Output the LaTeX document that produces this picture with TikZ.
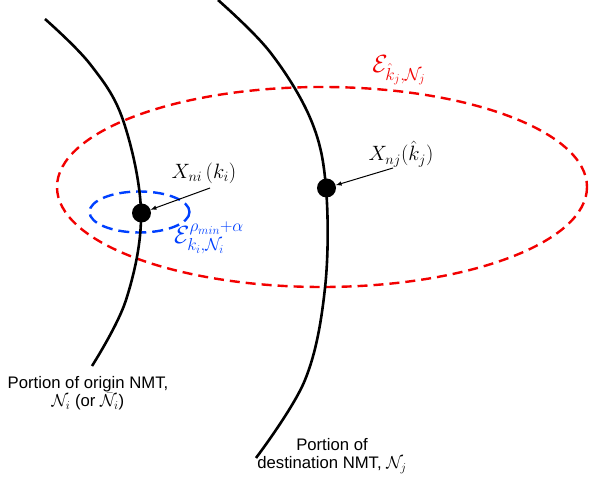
\documentclass[tikz,border=0pt]{standalone}
\usepackage{amsmath}
\usepackage{fontspec}
\setmainfont{Liberation Sans}
\begin{document}
\begin{tikzpicture}[x=1pt,y=-1pt,
  curve/.style={line width=2.6pt},
  dot/.style={circle,fill=black,inner sep=0pt,minimum size=19pt},
  lbl/.style={font=\fontsize{16.7}{19.5}\selectfont,inner sep=1pt,align=center},
  mlbl/.style={font=\fontsize{20}{23}\selectfont,inner sep=1pt},
  elbl/.style={font=\fontsize{24}{28}\selectfont,inner sep=1pt},
  ptr/.style={-latex,line width=1pt},
  redell/.style={red!95!black,line width=2.4pt,dash pattern=on 10pt off 6pt},
  blueell/.style={blue!75!cyan,line width=2.4pt,dash pattern=on 11pt off 6pt}]
\useasboundingbox (0,0) rectangle (590,486);
% ellipses
\draw[redell] (322,187) ellipse [x radius=265, y radius=100];
\draw[blueell] (139.5,212) ellipse [x radius=50, y radius=20.5];
% curves
\draw[curve] plot[smooth,tension=0.6] coordinates {(45,19) (90,64) (123,120) (141,213) (126,300) (92,366)};
\draw[curve] plot[smooth,tension=0.6] coordinates {(218,0) (270,52) (311,120) (326,188) (325,288) (305,380) (256,458)};
% dots
\node[dot] (pi) at (141.5,213) {};
\node[dot] (pj) at (326.5,188) {};
% labels
\node[mlbl] (li) at (204,173) {$X_{ni}\,(k_i)$};
\node[mlbl] (lj) at (401,154) {$X_{nj}(\hat{k}_j)$};
\node[elbl,text=red!95!black] (le) at (399,70) {$\mathcal{E}_{\hat{k}_j,\mathcal{N}_j}$};
\node[elbl,text=blue!75!cyan] (lb) at (209,238) {$\mathcal{E}^{\rho_{min}+\alpha}_{k_i,\mathcal{N}_i}$};
\draw[ptr] (210,188) -- (pi);
\draw[ptr] (393,168) -- (pj);
\node[lbl] (oi) at (88,393) {Portion of origin NMT,\\[-1pt]$\mathcal{N}_i$ (or $\bar{\mathcal{N}}_i$)};
\node[lbl] (dj) at (332,456) {Portion of\\[-1pt]destination NMT, $\mathcal{N}_j$};
\end{tikzpicture}
\end{document}
